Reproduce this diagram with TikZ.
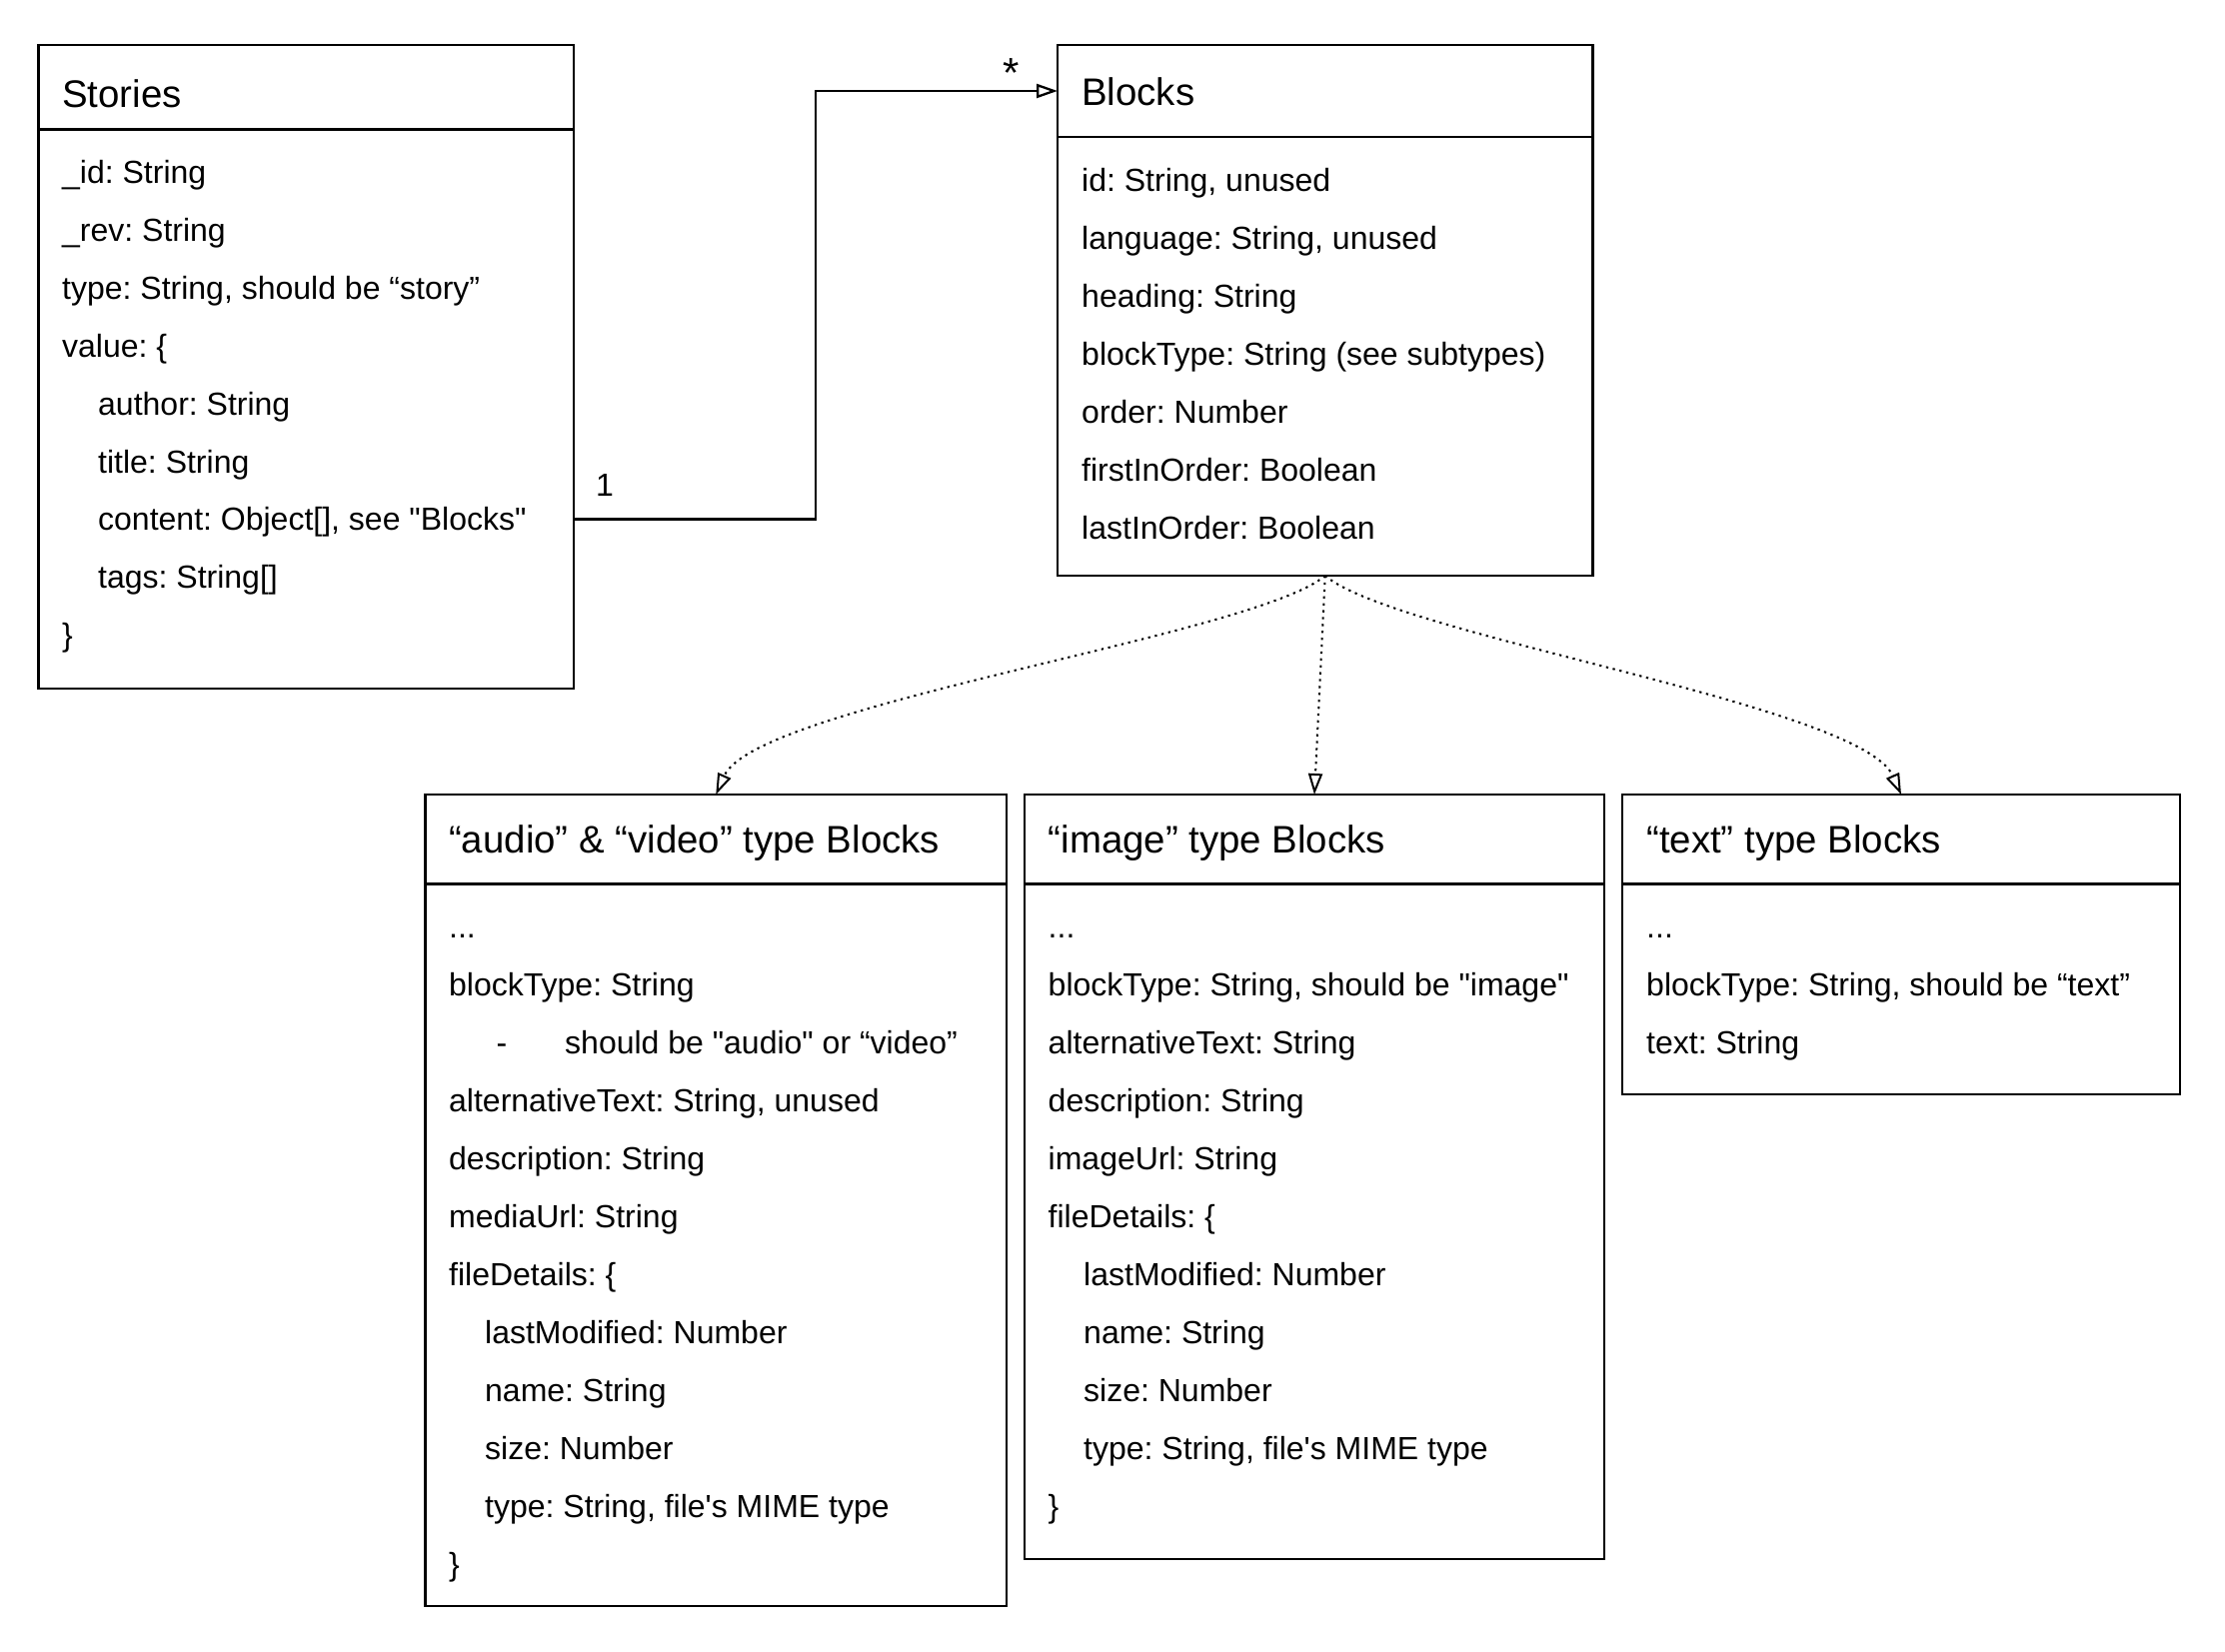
\documentclass[tikz,border=0pt]{standalone}
\usepackage{fontspec}
\setmainfont{Liberation Sans}[Ligatures=TeXOff]
\usetikzlibrary{arrows.meta,calc}
\frenchspacing
\begin{document}
\frenchspacing
\begin{tikzpicture}[x=1pt,y=-1pt,
  box/.style={draw, line width=2.3pt, anchor=north west, inner sep=0pt, outer sep=0pt},
  rowtext/.style={anchor=west, inner sep=0pt, text height=23pt, text depth=0pt, font=\fontsize{32}{38}\selectfont},
  ttl/.style={anchor=west, inner sep=0pt, text height=27.5pt, text depth=0pt, font=\fontsize{38.4}{46}\selectfont},
  conn/.style={line width=2.3pt, -{Triangle[open, length=21pt, width=14pt]}},
  dep/.style={line width=2pt, dash pattern=on 2.3pt off 4.6pt, -{Triangle[open, length=21pt, width=14pt]}},
  mult/.style={anchor=base, inner sep=0pt, font=\fontsize{32}{38}\selectfont}]
\fill[white] (0,0) rectangle (2226,1652);
\useasboundingbox (0,0) rectangle (2226,1652);

% ---------- Stories ----------
\node[box, minimum width=535.5pt, minimum height=84.5pt] (stories-h) at (38.5,45) {};
\node[box, minimum width=535.5pt, minimum height=559.5pt] (stories-b) at (38.5,129.5) {};
\node[ttl] (st-t) at (62,94) {Stories};
\node[rowtext] (st1) at (62,172) {\_id: String};
\node[rowtext] (st2) at (62,229.9) {\_rev: String};
\node[rowtext] (st3) at (62,287.8) {type: String, should be “story”};
\node[rowtext] (st4) at (62,345.7) {value: \{};
\node[rowtext] (st5) at (98,403.6) {author: String};
\node[rowtext] (st6) at (98,461.5) {title: String};
\node[rowtext] (st7) at (98,519.4) {content: Object[], see "Blocks"};
\node[rowtext] (st8) at (98,577.3) {tags: String[]};
\node[rowtext] (st9) at (62,635.2) {\}};

% ---------- Blocks ----------
\node[box, minimum width=535.5pt, minimum height=92pt] (blocks-h) at (1058,45) {};
\node[box, minimum width=535.5pt, minimum height=439pt] (blocks-b) at (1058,137) {};
\node[ttl] (bl-t) at (1082,92) {Blocks};
\node[rowtext] (bl1) at (1082,180) {id: String, unused};
\node[rowtext] (bl2) at (1082,238) {language: String, unused};
\node[rowtext] (bl3) at (1082,296) {heading: String};
\node[rowtext] (bl4) at (1082,354) {blockType: String (see subtypes)};
\node[rowtext] (bl5) at (1082,412) {order: Number};
\node[rowtext] (bl6) at (1082,470) {firstInOrder: Boolean};
\node[rowtext] (bl7) at (1082,528) {lastInOrder: Boolean};

% ---------- audio & video ----------
\node[box, minimum width=581.5pt, minimum height=89.5pt] (audio-h) at (425.5,795) {};
\node[box, minimum width=581.5pt, minimum height=722.5pt] (audio-b) at (425.5,884.5) {};
\node[ttl] (au-t) at (449,840) {“audio” \& “video” type Blocks};
\node[rowtext] (au1) at (449,927.3) {...};
\node[rowtext] (au2) at (449,985.3) {blockType: String};
\node[rowtext] (au3a) at (496.5,1043.3) {-};
\node[rowtext] (au3) at (565,1043.3) {should be "audio" or “video”};
\node[rowtext] (au4) at (449,1101.3) {alternativeText: String, unused};
\node[rowtext] (au5) at (449,1159.3) {description: String};
\node[rowtext] (au6) at (449,1217.3) {mediaUrl: String};
\node[rowtext] (au7) at (449,1275.3) {fileDetails: \{};
\node[rowtext] (au8) at (485,1333.3) {lastModified: Number};
\node[rowtext] (au9) at (485,1391.3) {name: String};
\node[rowtext] (au10) at (485,1449.3) {size: Number};
\node[rowtext] (au11) at (485,1507.3) {type: String, file's MIME type};
\node[rowtext] (au12) at (449,1565.3) {\}};

% ---------- image ----------
\node[box, minimum width=580pt, minimum height=89.5pt] (image-h) at (1025,795) {};
\node[box, minimum width=580pt, minimum height=675.5pt] (image-b) at (1025,884.5) {};
\node[ttl] (im-t) at (1048.5,840) {“image” type Blocks};
\node[rowtext] (im1) at (1048.5,927.3) {...};
\node[rowtext] (im2) at (1048.5,985.3) {blockType: String, should be "image"};
\node[rowtext] (im3) at (1048.5,1043.3) {alternativeText: String};
\node[rowtext] (im4) at (1048.5,1101.3) {description: String};
\node[rowtext] (im5) at (1048.5,1159.3) {imageUrl: String};
\node[rowtext] (im6) at (1048.5,1217.3) {fileDetails: \{};
\node[rowtext] (im7) at (1084,1275.3) {lastModified: Number};
\node[rowtext] (im8) at (1084,1333.3) {name: String};
\node[rowtext] (im9) at (1084,1391.3) {size: Number};
\node[rowtext] (im10) at (1084,1449.3) {type: String, file's MIME type};
\node[rowtext] (im11) at (1048.5,1507.3) {\}};

% ---------- text ----------
\node[box, minimum width=558pt, minimum height=89.5pt] (text-h) at (1623,795) {};
\node[box, minimum width=558pt, minimum height=210.5pt] (text-b) at (1623,884.5) {};
\node[ttl] (tx-t) at (1647,840) {“text” type Blocks};
\node[rowtext] (tx1) at (1647,927.3) {...};
\node[rowtext] (tx2) at (1647,985.3) {blockType: String, should be “text”};
\node[rowtext] (tx3) at (1647,1043.3) {text: String};

% ---------- connectors ----------
\coordinate (jog) at (816,0);
\draw[conn] (stories-b.east |- st7.west) -| (jog |- blocks-h.west) -- (blocks-h.west);
\node[mult] (m1) at (605,496) {1};
\node[mult, font=\fontsize{42}{48}\selectfont] (m2) at (1012,87) {*};

\draw[dep] (blocks-b.south) .. controls +(-70,60) and +(40,-90) .. (audio-h.north);
\draw[dep] (blocks-b.south) -- (image-h.north);
\draw[dep] (blocks-b.south) .. controls +(70,60) and +(-40,-90) .. (text-h.north);
\end{tikzpicture}
\end{document}
